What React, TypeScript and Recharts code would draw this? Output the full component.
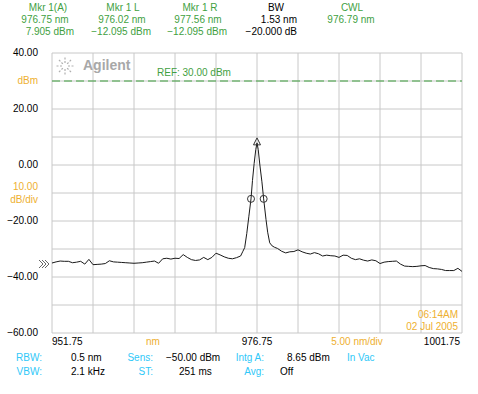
import React from "react";
import {
  CartesianGrid,
  ComposedChart,
  Line,
  ReferenceLine,
  Scatter,
  XAxis,
  YAxis,
} from "recharts";

// trace (nm, dBm)
const wavelengths = [
  951.75, 952.25, 952.75, 953.25, 953.75, 954.25, 954.75, 955.25, 955.75, 956.25,
  956.75, 957.25, 957.75, 958.25, 958.75, 959.25, 959.75, 960.25, 960.75, 961.25,
  961.75, 962.25, 962.75, 963.25, 963.75, 964.25, 964.75, 965.25, 965.75, 966.25,
  966.75, 967.25, 967.75, 968.25, 968.75, 969.25, 969.75, 970.25, 970.75, 971.25,
  971.75, 972.25, 972.75, 973.25, 973.75, 974.25, 974.75, 975.0, 975.25, 975.5,
  975.75, 976.02, 976.2, 976.4, 976.6, 976.75, 976.9, 977.1, 977.35, 977.56,
  977.85, 978.05, 978.3, 978.6, 978.9, 979.25, 979.75, 980.25, 980.75, 981.25,
  981.75, 982.25, 982.75, 983.25, 983.75, 984.25, 984.75, 985.25, 985.75, 986.25,
  986.75, 987.25, 987.75, 988.25, 988.75, 989.25, 989.75, 990.25, 990.75, 991.25,
  991.75, 992.25, 992.75, 993.25, 993.75, 994.25, 994.75, 995.25, 995.75, 996.25,
  996.75, 997.25, 997.75, 998.25, 998.75, 999.25, 999.75, 1000.25, 1000.75, 1001.25,
  1001.75,
];
const powers = [
  -35.0, -34.6, -34.3, -34.4, -34.4, -34.9, -34.7, -34.4, -35.4, -33.7,
  -35.6, -35.5, -35.4, -35.2, -34.2, -34.6, -34.7, -34.8, -34.9, -35.0,
  -35.1, -35.0, -34.9, -34.7, -34.5, -34.3, -35.1, -33.5, -33.3, -33.6,
  -33.3, -33.4, -32.0, -33.0, -33.8, -34.1, -33.9, -33.0, -33.8, -33.0,
  -31.5, -32.1, -32.8, -33.3, -33.5, -33.1, -32.5, -31.0, -29.5, -24.5,
  -18.5, -12.1, -5.5, 0.5, 5.5, 7.9, 5.5, 0.0, -6.0, -12.1,
  -19.5, -24.0, -27.8, -28.9, -29.4, -29.8, -30.8, -31.4, -31.0, -30.9,
  -30.3, -31.0, -31.5, -31.8, -31.3, -31.7, -32.5, -32.2, -32.4, -32.5,
  -33.0, -32.2, -32.3, -33.3, -33.8, -33.5, -34.0, -34.3, -33.9, -34.2,
  -35.2, -34.7, -34.5, -34.4, -34.3, -35.4, -36.1, -36.2, -36.3, -36.2,
  -36.0, -35.9, -36.6, -37.0, -37.1, -37.3, -37.7, -37.7, -37.7, -36.9,
  -38.0,
];

const xTicks = [951.75, 956.75, 961.75, 966.75, 971.75, 976.75, 981.75, 986.75, 991.75, 996.75, 1001.75];
const yTicks = [40, 30, 20, 10, 0, -10, -20, -30, -40, -50, -60];
const refLevel = 30;

const peakMarker = [{ wl: 976.75, p: 7.905 }];
const halfMarkers = [
  { wl: 976.02, p: -12.095 },
  { wl: 977.56, p: -12.095 },
];

const trace = wavelengths.map((wl, i) => ({ wl, p: powers[i] }));

const GREEN = "#3f9f3f";
const ORANGE = "#eeb030";
const CYAN = "#30c8f8";
const FONT = "'Liberation Sans', Arial, sans-serif";

const fmt = (v: number) => (v < 0 ? "\u2212" + Math.abs(v).toFixed(2) : v.toFixed(2));

function YTick(props: any) {
  const { x, y, payload } = props;
  const v = payload.value;
  if (v === 30)
    return (
      <text x={x} y={y} textAnchor="end" dominantBaseline="middle" fill={ORANGE}>
        dBm
      </text>
    );
  if (v === -10)
    return (
      <g fill={ORANGE}>
        <text x={x} y={y - 6} textAnchor="end" dominantBaseline="middle">
          10.00
        </text>
        <text x={x} y={y + 7} textAnchor="end" dominantBaseline="middle">
          dB/div
        </text>
      </g>
    );
  if (v % 20 !== 0) return <g />;
  return (
    <text x={x} y={y} textAnchor="end" dominantBaseline="middle" fill="#000">
      {fmt(v)}
    </text>
  );
}

function XTick(props: any) {
  const { x, y, payload } = props;
  const v = payload.value;
  let anchor: "start" | "middle" | "end" | null = null;
  if (v === 951.75) anchor = "start";
  else if (v === 976.75) anchor = "middle";
  else if (v === 1001.75) anchor = "end";
  if (!anchor) return <g />;
  return (
    <text x={anchor === "end" ? x - 2 : x} y={y} textAnchor={anchor} dominantBaseline="middle" fill="#000">
      {v.toFixed(2)}
    </text>
  );
}

const PeakShape = (props: any) => {
  const { cx, cy } = props;
  return (
    <path
      d={`M${cx},${cy - 5} L${cx + 3.5},${cy + 2} L${cx - 3.5},${cy + 2} Z`}
      fill="none"
      stroke="#333"
      strokeWidth={1}
    />
  );
};

const HalfShape = (props: any) => {
  const { cx, cy } = props;
  return <circle cx={cx} cy={cy} r={3.5} fill="none" stroke="#333" strokeWidth={1} />;
};

function T(p: { x: number; y: number; c?: string; a?: "start" | "middle" | "end"; children: React.ReactNode }) {
  return (
    <text x={p.x} y={p.y} fill={p.c || "#000"} textAnchor={p.a || "start"} dominantBaseline="middle">
      {p.children}
    </text>
  );
}

function Overlay() {
  const rays = [0, 45, 90, 135, 180, 225, 270, 315];
  return (
    <svg
      width={478}
      height={394}
      style={{ position: "absolute", left: 0, top: 0, pointerEvents: "none" }}
      fontFamily={FONT}
      fontSize={10}
    >
      {/* header */}
      <T x={48} y={8} c={GREEN} a="middle">Mkr 1(A)</T>
      <T x={45} y={20} c={GREEN} a="middle">976.75 nm</T>
      <T x={74} y={32} c={GREEN} a="end">7.905 dBm</T>
      <T x={123} y={8} c={GREEN} a="middle">Mkr 1 L</T>
      <T x={122} y={20} c={GREEN} a="middle">976.02 nm</T>
      <T x={151} y={32} c={GREEN} a="end">{"\u221212.095 dBm"}</T>
      <T x={200} y={8} c={GREEN} a="middle">Mkr 1 R</T>
      <T x={198} y={20} c={GREEN} a="middle">977.56 nm</T>
      <T x={227} y={32} c={GREEN} a="end">{"\u221212.095 dBm"}</T>
      <T x={276} y={8} a="middle">BW</T>
      <T x={297} y={20} a="end">1.53 nm</T>
      <T x={297} y={32} a="end">{"\u221220.000 dB"}</T>
      <T x={352} y={8} c={GREEN} a="middle">CWL</T>
      <T x={351} y={20} c={GREEN} a="middle">976.79 nm</T>

      {/* logo */}
      <g stroke="#b0b0b0" strokeWidth={1.2}>
        {rays.map((a) => {
          const r = (a * Math.PI) / 180;
          return (
            <line
              key={a}
              x1={65 + Math.cos(r) * 3}
              y1={66 + Math.sin(r) * 3}
              x2={65 + Math.cos(r) * 9}
              y2={66 + Math.sin(r) * 9}
              strokeDasharray="2 1.5"
            />
          );
        })}
      </g>
      <text x={83} y={66} fill="#a8a8a8" fontSize={14} fontWeight="bold" dominantBaseline="middle">
        Agilent
      </text>
      <T x={157} y={73} c={GREEN}>REF: 30.00 dBm</T>

      {/* ref level marker */}
      <path d="M39,260 L43,264 L39,268 M42,260 L46,264 L42,268 M45,260 L49,264 L45,268" fill="none" stroke="#555" strokeWidth={0.9} />

      {/* x axis captions */}
      <T x={153} y={342} c={ORANGE} a="middle">nm</T>
      <T x={357} y={342} c={ORANGE} a="middle">5.00 nm/div</T>
      <T x={458} y={315} c={ORANGE} a="end">06:14AM</T>
      <T x={458} y={327} c={ORANGE} a="end">02 Jul 2005</T>

      {/* settings */}
      <T x={42} y={358} c={CYAN} a="end">RBW:</T>
      <T x={71} y={358}>0.5 nm</T>
      <T x={153} y={358} c={CYAN} a="end">Sens:</T>
      <T x={166} y={358}>{"\u221250.00 dBm"}</T>
      <T x={264} y={358} c={CYAN} a="end">Intg A:</T>
      <T x={287} y={358}>8.65 dBm</T>
      <T x={347} y={358} c={CYAN}>In Vac</T>
      <T x={42} y={372} c={CYAN} a="end">VBW:</T>
      <T x={71} y={372}>2.1 kHz</T>
      <T x={153} y={372} c={CYAN} a="end">ST:</T>
      <T x={179} y={372}>251 ms</T>
      <T x={264} y={372} c={CYAN} a="end">Avg:</T>
      <T x={280} y={372}>Off</T>
    </svg>
  );
}

export default function App() {
  return (
    <div
      style={{
        position: "fixed",
        left: 0,
        top: 0,
        width: 478,
        height: 394,
        background: "#fff",
        fontFamily: FONT,
      }}
    >
      <ComposedChart
        width={478}
        height={394}
        margin={{ top: 53, right: 16, bottom: 41, left: 0 }}
        style={{ fontFamily: FONT, fontSize: 10 }}
      >
        <CartesianGrid stroke="#c8c8c8" strokeWidth={1} />
        <XAxis
          dataKey="wl"
          type="number"
          domain={[951.75, 1001.75]}
          ticks={xTicks}
          height={20}
          axisLine={false}
          tickLine={false}
          tickSize={0}
          tickMargin={9}
          tick={<XTick />}
          interval={0}
          allowDataOverflow
        />
        <YAxis
          type="number"
          domain={[-60, 40]}
          ticks={yTicks}
          width={52}
          axisLine={false}
          tickLine={false}
          tickSize={0}
          tickMargin={14}
          tick={<YTick />}
          interval={0}
          allowDataOverflow
        />
        <ReferenceLine y={refLevel} stroke={GREEN} strokeDasharray="8 4" strokeWidth={1} />
        <Line
          data={trace}
          dataKey="p"
          type="linear"
          stroke="#1a1a1a"
          strokeWidth={1}
          dot={false}
          isAnimationActive={false}
        />
        <Scatter data={halfMarkers} dataKey="p" shape={<HalfShape />} isAnimationActive={false} />
        <Scatter data={peakMarker} dataKey="p" shape={<PeakShape />} isAnimationActive={false} />
      </ComposedChart>
      <Overlay />
    </div>
  );
}
